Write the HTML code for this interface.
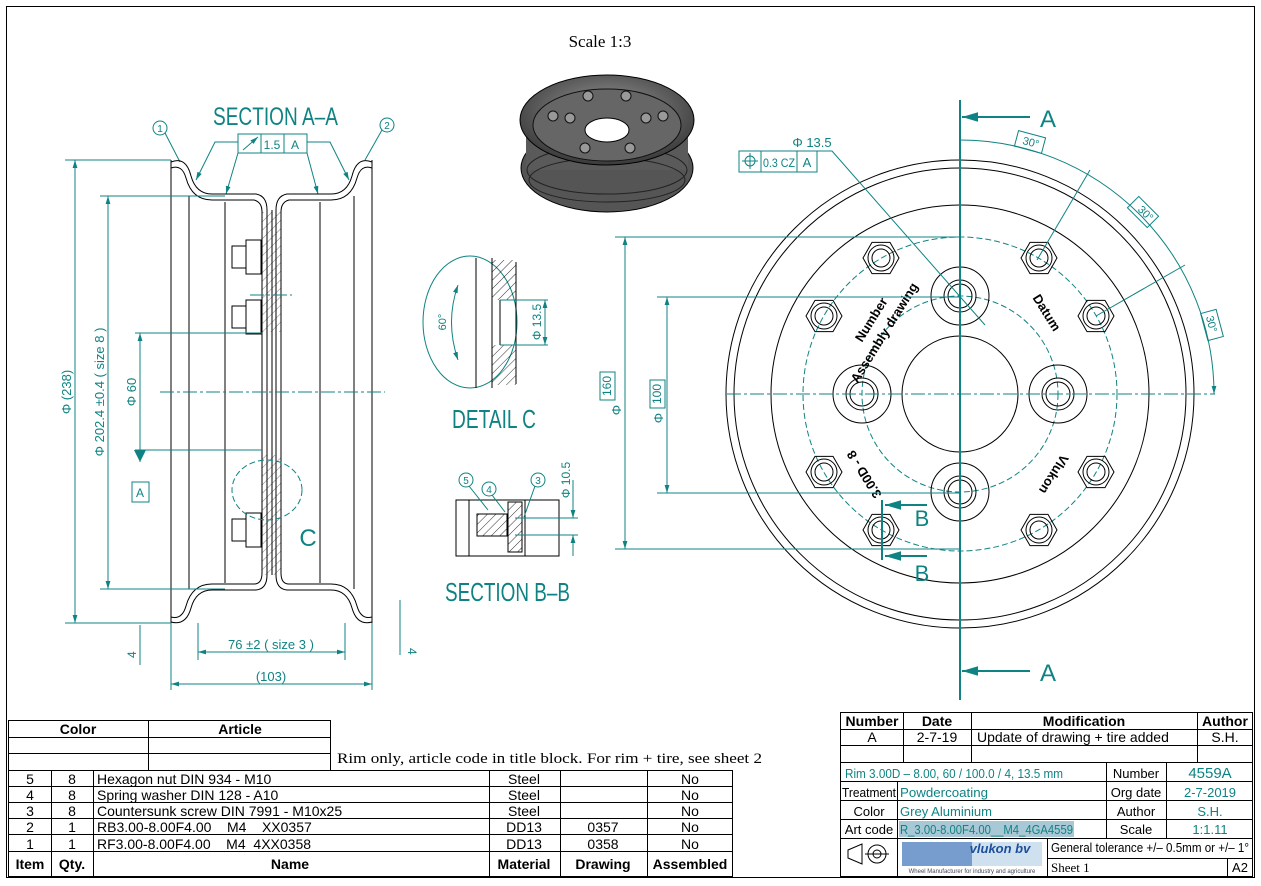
<!DOCTYPE html>
<html><head><meta charset="utf-8"><style>
html,body{margin:0;padding:0;background:#fff}
svg{display:block}
.t{fill:#0f8383;font-family:"Liberation Sans",sans-serif}
.k{fill:#000;font-family:"Liberation Sans",sans-serif}
.s{fill:#000;font-family:"Liberation Serif",serif}
.ln{stroke:#000;stroke-width:1;fill:none}
.tl{stroke:#0f8383;stroke-width:1;fill:none}
.cl{stroke:#0f8383;stroke-width:1;fill:none;stroke-dasharray:14 3 3 3}
.dl{stroke:#0f8383;stroke-width:1;fill:none;stroke-dasharray:6 3}
</style></head><body>
<svg width="1261" height="886" viewBox="0 0 1261 886" xmlns="http://www.w3.org/2000/svg">
<defs>
<marker id="ar" viewBox="0 0 10 10" refX="10" refY="5" markerWidth="8" markerHeight="8" orient="auto-start-reverse"><path d="M0,2 L10,5 L0,8z" fill="#0f8383"/></marker>
<pattern id="h" width="6" height="6" patternUnits="userSpaceOnUse" patternTransform="rotate(45)"><line x1="0" y1="0" x2="0" y2="6" stroke="#000" stroke-width="0.8"/></pattern>
<radialGradient id="g3" cx="50%" cy="40%" r="60%"><stop offset="0" stop-color="#999"/><stop offset="1" stop-color="#3a3a3a"/></radialGradient>
</defs>
<rect x="6.5" y="6.5" width="1248" height="871" class="ln"/>

<!-- Scale + 3D -->
<text x="600" y="47" class="s" font-size="17" text-anchor="middle">Scale 1:3</text>
<ellipse cx="607" cy="168" rx="86" ry="44" fill="#555" stroke="#000"/>
<rect x="526" y="120" width="162" height="50" fill="#5a5a5a"/>
<ellipse cx="607" cy="180" rx="78" ry="22" fill="none" stroke="#222"/>
<ellipse cx="607" cy="170" rx="80" ry="24" fill="none" stroke="#222"/>
<ellipse cx="607" cy="120" rx="87" ry="45" fill="url(#g3)" stroke="#000"/>
<ellipse cx="607" cy="125" rx="74" ry="36" fill="#666" stroke="#111"/>
<ellipse cx="607" cy="130" rx="22" ry="12" fill="#fff" stroke="#000"/>
<g fill="#999" stroke="#111"><circle cx="588" cy="96" r="5"/><circle cx="626" cy="96" r="5"/><circle cx="553" cy="116" r="5"/><circle cx="663" cy="116" r="5"/><circle cx="570" cy="118" r="5"/><circle cx="646" cy="118" r="5"/><circle cx="585" cy="148" r="5"/><circle cx="630" cy="148" r="5"/></g>

<!-- SECTION A-A -->
<text x="213" y="125" class="t" font-size="25" textLength="125" lengthAdjust="spacingAndGlyphs">SECTION A–A</text>
<circle cx="160" cy="128" r="7" class="tl"/><text x="160" y="132" class="t" font-size="10" text-anchor="middle">1</text>
<circle cx="387" cy="125" r="7" class="tl"/><text x="387" y="129" class="t" font-size="10" text-anchor="middle">2</text>
<line x1="165" y1="133" x2="180" y2="162" class="tl"/><line x1="382" y1="130" x2="365" y2="160" class="tl"/>
<rect x="238" y="134" width="69" height="19" class="tl"/><line x1="261" y1="134" x2="261" y2="153" class="tl"/><line x1="284" y1="134" x2="284" y2="153" class="tl"/>
<line x1="243" y1="150" x2="258" y2="137" class="tl" marker-end="url(#ar)"/>
<text x="272" y="149" class="t" font-size="12" text-anchor="middle">1.5</text><text x="295" y="149" class="t" font-size="12" text-anchor="middle">A</text>
<polyline points="238,142 215,142 196,180" class="tl" marker-end="url(#ar)"/>
<polyline points="238,153 226,194" class="tl" marker-end="url(#ar)"/>
<polyline points="307,142 330,142 349,180" class="tl" marker-end="url(#ar)"/>
<polyline points="307,153 318,194" class="tl" marker-end="url(#ar)"/>
<g class="ln">
<path d="M171,162 Q186,156 191,176 Q196,194 212,194 L256,194 Q267,196 267,210 L267,575 Q267,589 256,590 L212,590 Q196,590 191,608 Q186,626 171,622"/>
<path d="M171,168 Q182,164 186,178 Q192,200 212,200 L254,200 Q262,202 262,212 L262,573 Q262,584 254,584 L212,584 Q192,584 186,606 Q182,620 171,617"/>
<path d="M372,162 Q357,156 352,176 Q347,194 331,194 L287,194 Q276,196 276,210 L276,575 Q276,589 287,590 L331,590 Q347,590 352,608 Q357,626 372,622"/>
<path d="M372,168 Q361,164 357,178 Q351,200 331,200 L289,200 Q281,202 281,212 L281,573 Q281,584 289,584 L331,584 Q351,584 357,606 Q361,620 372,617"/>
<line x1="171" y1="160" x2="171" y2="623"/><line x1="372" y1="160" x2="372" y2="623"/>
<line x1="189" y1="196" x2="189" y2="589"/><line x1="354" y1="196" x2="354" y2="589"/>
<line x1="225" y1="202" x2="225" y2="583"/><line x1="320" y1="202" x2="320" y2="583"/>
<line x1="272" y1="210" x2="272" y2="575"/>
</g>
<rect x="262" y="212" width="19" height="120" fill="url(#h)" opacity="0.6"/>
<rect x="262" y="455" width="19" height="120" fill="url(#h)" opacity="0.6"/>
<g class="ln" fill="#fff">
<rect x="232" y="246" width="14" height="22"/><rect x="246" y="240" width="15" height="34"/>
<rect x="232" y="306" width="14" height="22"/><rect x="246" y="300" width="15" height="34"/>
<rect x="232" y="519" width="14" height="22"/><rect x="246" y="513" width="15" height="34"/>
</g>
<line x1="250" y1="295" x2="292" y2="295" class="cl"/>
<line x1="160" y1="392" x2="385" y2="392" class="cl"/>
<ellipse cx="267" cy="490" rx="35" ry="30" class="dl"/>
<text x="308" y="546" class="t" font-size="24" text-anchor="middle">C</text>
<g class="tl">
<line x1="65" y1="160" x2="171" y2="160"/><line x1="65" y1="623" x2="171" y2="623"/>
<line x1="75" y1="160" x2="75" y2="623" marker-start="url(#ar)" marker-end="url(#ar)"/>
<line x1="100" y1="196" x2="225" y2="196"/><line x1="100" y1="589" x2="225" y2="589"/>
<line x1="108" y1="196" x2="108" y2="589" marker-start="url(#ar)" marker-end="url(#ar)"/>
<line x1="135" y1="333" x2="262" y2="333"/><line x1="135" y1="450" x2="262" y2="450"/>
<line x1="140" y1="333" x2="140" y2="462" marker-start="url(#ar)"/>
<rect x="132" y="482" width="17" height="20"/>
<line x1="198" y1="623" x2="198" y2="660"/><line x1="345" y1="623" x2="345" y2="660"/>
<line x1="198" y1="652" x2="345" y2="652" marker-start="url(#ar)" marker-end="url(#ar)"/>
<line x1="171" y1="623" x2="171" y2="690"/><line x1="372" y1="623" x2="372" y2="690"/>
<line x1="171" y1="684" x2="372" y2="684" marker-start="url(#ar)" marker-end="url(#ar)"/>
<line x1="140" y1="625" x2="140" y2="665"/><line x1="400" y1="600" x2="400" y2="655"/>
</g>
<path d="M134,450 L146,450 L140,462z" fill="#0f8383"/>
<text x="140" y="497" class="t" font-size="12" text-anchor="middle">A</text>
<text transform="translate(71,392) rotate(-90)" class="t" font-size="13" text-anchor="middle">Φ (238)</text>
<text transform="translate(104,392) rotate(-90)" class="t" font-size="13" text-anchor="middle">Φ 202.4 ±0.4 ( size 8 )</text>
<text transform="translate(136,392) rotate(-90)" class="t" font-size="13" text-anchor="middle">Φ 60</text>
<text x="271" y="649" class="t" font-size="13" text-anchor="middle">76  ±2 ( size 3 )</text>
<text x="271" y="681" class="t" font-size="13" text-anchor="middle">(103)</text>
<text transform="translate(136,658) rotate(-90)" class="t" font-size="12">4</text>
<text transform="translate(408,648) rotate(90)" class="t" font-size="12">4</text>

<!-- DETAIL C -->
<ellipse cx="470" cy="322" rx="47" ry="66" class="tl" stroke-width="1.5"/>
<g class="ln"><line x1="476" y1="258" x2="476" y2="388"/><line x1="492" y1="258" x2="492" y2="388"/><line x1="516" y1="262" x2="516" y2="384"/><line x1="500" y1="300" x2="500" y2="345"/></g>
<rect x="492" y="260" width="24" height="40" fill="url(#h)"/><rect x="492" y="345" width="24" height="40" fill="url(#h)"/>
<line x1="500" y1="300" x2="548" y2="300" class="tl"/><line x1="500" y1="345" x2="548" y2="345" class="tl"/>
<line x1="545" y1="300" x2="545" y2="345" class="tl" marker-start="url(#ar)" marker-end="url(#ar)"/>
<text transform="translate(541,322) rotate(-90)" class="t" font-size="12" text-anchor="middle">Φ 13.5</text>
<path d="M458,285 Q445,322 458,360" class="tl" marker-start="url(#ar)" marker-end="url(#ar)"/>
<text transform="translate(446,322) rotate(-90)" class="t" font-size="11" text-anchor="middle">60°</text>
<text x="452" y="428" class="t" font-size="26" textLength="84" lengthAdjust="spacingAndGlyphs">DETAIL C</text>

<!-- SECTION B-B -->
<rect x="456" y="500" width="103" height="56" class="ln"/>
<line x1="469" y1="500" x2="469" y2="556" class="ln"/><line x1="525" y1="500" x2="525" y2="556" class="ln"/>
<rect x="477" y="514" width="30" height="22" fill="url(#h)" stroke="#000"/>
<rect x="508" y="502" width="14" height="50" fill="url(#h)" stroke="#000"/>
<line x1="515" y1="518" x2="578" y2="518" class="tl"/><line x1="515" y1="535" x2="578" y2="535" class="tl"/>
<line x1="573" y1="480" x2="573" y2="518" class="tl" marker-end="url(#ar)"/><line x1="573" y1="556" x2="573" y2="535" class="tl" marker-end="url(#ar)"/>
<text transform="translate(570,480) rotate(-90)" class="t" font-size="12" text-anchor="middle">Φ 10.5</text>
<circle cx="466" cy="480" r="7" class="tl"/><text x="466" y="484" class="t" font-size="10" text-anchor="middle">5</text>
<circle cx="489" cy="489" r="7" class="tl"/><text x="489" y="493" class="t" font-size="10" text-anchor="middle">4</text>
<circle cx="538" cy="480" r="7" class="tl"/><text x="538" y="484" class="t" font-size="10" text-anchor="middle">3</text>
<line x1="469" y1="486" x2="488" y2="510" class="tl"/><line x1="492" y1="495" x2="505" y2="512" class="tl"/><line x1="535" y1="486" x2="524" y2="517" class="tl"/>
<text x="445" y="601" class="t" font-size="26" textLength="125" lengthAdjust="spacingAndGlyphs">SECTION B–B</text>

<!-- FRONT VIEW -->
<g class="ln">
<circle cx="960" cy="394" r="234"/><circle cx="960" cy="394" r="226"/><circle cx="960" cy="394" r="189"/>
<circle cx="960" cy="394" r="58"/>
</g>
<circle cx="960" cy="394" r="157" class="dl" stroke-dasharray="12 4"/>
<circle cx="960" cy="394" r="98" class="dl" stroke-dasharray="12 4"/>
<g class="ln">
<circle cx="960" cy="296" r="29"/><circle cx="960" cy="296" r="16"/><circle cx="960" cy="296" r="12"/>
<circle cx="960" cy="492" r="29"/><circle cx="960" cy="492" r="16"/><circle cx="960" cy="492" r="12"/>
<circle cx="862" cy="394" r="29"/><circle cx="862" cy="394" r="16"/><circle cx="862" cy="394" r="12"/>
<circle cx="1058" cy="394" r="29"/><circle cx="1058" cy="394" r="16"/><circle cx="1058" cy="394" r="12"/>
</g>
<g class="ln">
<g transform="translate(881,258)"><polygon points="18,0 9,15.6 -9,15.6 -18,0 -9,-15.6 9,-15.6"/><circle r="13"/><circle r="9"/></g>
<g transform="translate(824,316)"><polygon points="18,0 9,15.6 -9,15.6 -18,0 -9,-15.6 9,-15.6"/><circle r="13"/><circle r="9"/></g>
<g transform="translate(1039,258)"><polygon points="18,0 9,15.6 -9,15.6 -18,0 -9,-15.6 9,-15.6"/><circle r="13"/><circle r="9"/></g>
<g transform="translate(1096,316)"><polygon points="18,0 9,15.6 -9,15.6 -18,0 -9,-15.6 9,-15.6"/><circle r="13"/><circle r="9"/></g>
<g transform="translate(824,472)"><polygon points="18,0 9,15.6 -9,15.6 -18,0 -9,-15.6 9,-15.6"/><circle r="13"/><circle r="9"/></g>
<g transform="translate(881,530)"><polygon points="18,0 9,15.6 -9,15.6 -18,0 -9,-15.6 9,-15.6"/><circle r="13"/><circle r="9"/></g>
<g transform="translate(1039,530)"><polygon points="18,0 9,15.6 -9,15.6 -18,0 -9,-15.6 9,-15.6"/><circle r="13"/><circle r="9"/></g>
<g transform="translate(1096,472)"><polygon points="18,0 9,15.6 -9,15.6 -18,0 -9,-15.6 9,-15.6"/><circle r="13"/><circle r="9"/></g>
</g>
<text transform="translate(875,322) rotate(-58)" class="k" font-size="13" font-weight="bold" text-anchor="middle">Number</text>
<text transform="translate(888,335) rotate(-58)" class="k" font-size="13" font-weight="bold" text-anchor="middle">Assembly drawing</text>
<text transform="translate(1043,315) rotate(58)" class="k" font-size="13" font-weight="bold" text-anchor="middle">Datum</text>
<text transform="translate(868,472) rotate(-122)" class="k" font-size="13" font-weight="bold" text-anchor="middle">3.00D - 8</text>
<text transform="translate(1050,472) rotate(122)" class="k" font-size="13" font-weight="bold" text-anchor="middle">Vlukon</text>
<line x1="727" y1="394" x2="1215" y2="394" class="cl"/>
<line x1="960" y1="100" x2="960" y2="700" stroke="#0f8383" stroke-width="2"/>
<line x1="1030" y1="117" x2="962" y2="117" stroke="#0f8383" stroke-width="2" marker-end="url(#ar)"/>
<line x1="1030" y1="671" x2="962" y2="671" stroke="#0f8383" stroke-width="2" marker-end="url(#ar)"/>
<text x="1048" y="127" class="t" font-size="24" text-anchor="middle">A</text>
<text x="1048" y="681" class="t" font-size="24" text-anchor="middle">A</text>
<line x1="882" y1="500" x2="882" y2="560" stroke="#0f8383" stroke-width="2"/>
<line x1="927" y1="505" x2="885" y2="505" stroke="#0f8383" stroke-width="2" marker-end="url(#ar)"/>
<line x1="927" y1="556" x2="885" y2="556" stroke="#0f8383" stroke-width="2" marker-end="url(#ar)"/>
<text x="922" y="526" class="t" font-size="22" text-anchor="middle">B</text>
<text x="922" y="581" class="t" font-size="22" text-anchor="middle">B</text>
<g class="tl">
<line x1="615" y1="237" x2="960" y2="237"/><line x1="615" y1="549" x2="960" y2="549"/>
<line x1="625" y1="237" x2="625" y2="549" marker-start="url(#ar)" marker-end="url(#ar)"/>
<line x1="657" y1="297" x2="960" y2="297"/><line x1="657" y1="493" x2="960" y2="493"/>
<line x1="667" y1="297" x2="667" y2="493" marker-start="url(#ar)" marker-end="url(#ar)"/>
<rect x="600" y="372" width="15" height="28"/><rect x="650" y="380" width="15" height="28"/>
<rect x="739" y="151" width="78" height="21"/><line x1="761" y1="151" x2="761" y2="172"/><line x1="797" y1="151" x2="797" y2="172"/>
<circle cx="750" cy="161" r="5"/><line x1="742" y1="161" x2="758" y2="161"/><line x1="750" y1="153" x2="750" y2="169"/>
<polyline points="817,151 832,151 985,325"/>
<path d="M960,140 A254,254 0 0 1 1214,394" marker-end="url(#ar)"/>
<line x1="1037" y1="260" x2="1090" y2="170"/><line x1="1096" y1="316" x2="1185" y2="265"/>
<g transform="translate(1030,142) rotate(15)"><rect x="-14" y="-8" width="28" height="16"/></g>
<g transform="translate(1143,212) rotate(45)"><rect x="-14" y="-8" width="28" height="16"/></g>
<g transform="translate(1212,325) rotate(75)"><rect x="-14" y="-8" width="28" height="16"/></g>
</g>
<text transform="translate(611,386) rotate(-90)" class="t" font-size="12" text-anchor="middle">160</text>
<text transform="translate(621,410) rotate(-90)" class="t" font-size="13" text-anchor="middle">Φ</text>
<text transform="translate(661,394) rotate(-90)" class="t" font-size="12" text-anchor="middle">100</text>
<text transform="translate(663,418) rotate(-90)" class="t" font-size="13" text-anchor="middle">Φ</text>
<text x="779" y="167" class="t" font-size="12" text-anchor="middle" textLength="32" lengthAdjust="spacingAndGlyphs">0.3 CZ</text><text x="807" y="167" class="t" font-size="13" text-anchor="middle">A</text>
<text x="812" y="147" class="t" font-size="13" text-anchor="middle">Φ 13.5</text>
<text transform="translate(1030,146) rotate(15)" class="t" font-size="11" text-anchor="middle">30°</text>
<text transform="translate(1143,216) rotate(45)" class="t" font-size="11" text-anchor="middle">30°</text>
<text transform="translate(1208,325) rotate(75)" class="t" font-size="11" text-anchor="middle">30°</text>

<!-- LEFT TABLE -->
<g stroke="#000" stroke-width="1" fill="none">
<rect x="8.5" y="720.5" width="322" height="50"/>
<line x1="8" y1="737.5" x2="331" y2="737.5"/><line x1="8" y1="753.5" x2="331" y2="753.5"/>
<line x1="148.5" y1="720" x2="148.5" y2="770"/>
<rect x="8.5" y="770.5" width="724" height="106"/>
<line x1="8" y1="786.5" x2="733" y2="786.5"/><line x1="8" y1="802.5" x2="733" y2="802.5"/><line x1="8" y1="818.5" x2="733" y2="818.5"/><line x1="8" y1="834.5" x2="733" y2="834.5"/><line x1="8" y1="851.5" x2="733" y2="851.5"/>
<line x1="51.5" y1="770" x2="51.5" y2="877"/><line x1="93.5" y1="770" x2="93.5" y2="877"/><line x1="489.5" y1="770" x2="489.5" y2="877"/><line x1="560.5" y1="770" x2="560.5" y2="877"/><line x1="647.5" y1="770" x2="647.5" y2="877"/>
</g>
<g class="k" font-size="14">
<text x="78" y="734" text-anchor="middle" font-weight="bold">Color</text><text x="240" y="734" text-anchor="middle" font-weight="bold">Article</text>
<text x="30" y="784" text-anchor="middle">5</text><text x="72" y="784" text-anchor="middle">8</text><text x="97" y="784">Hexagon nut DIN 934 - M10</text><text x="524" y="784" text-anchor="middle">Steel</text><text x="690" y="784" text-anchor="middle">No</text>
<text x="30" y="800" text-anchor="middle">4</text><text x="72" y="800" text-anchor="middle">8</text><text x="97" y="800">Spring washer DIN 128 - A10</text><text x="524" y="800" text-anchor="middle">Steel</text><text x="690" y="800" text-anchor="middle">No</text>
<text x="30" y="816" text-anchor="middle">3</text><text x="72" y="816" text-anchor="middle">8</text><text x="97" y="816">Countersunk screw DIN 7991 - M10x25</text><text x="524" y="816" text-anchor="middle">Steel</text><text x="690" y="816" text-anchor="middle">No</text>
<text x="30" y="832" text-anchor="middle">2</text><text x="72" y="832" text-anchor="middle">1</text><text x="97" y="832" xml:space="preserve">RB3.00-8.00F4.00    M4    XX0357</text><text x="524" y="832" text-anchor="middle">DD13</text><text x="603" y="832" text-anchor="middle">0357</text><text x="690" y="832" text-anchor="middle">No</text>
<text x="30" y="849" text-anchor="middle">1</text><text x="72" y="849" text-anchor="middle">1</text><text x="97" y="849" xml:space="preserve">RF3.00-8.00F4.00    M4  4XX0358</text><text x="524" y="849" text-anchor="middle">DD13</text><text x="603" y="849" text-anchor="middle">0358</text><text x="690" y="849" text-anchor="middle">No</text>
<g font-weight="bold"><text x="30" y="869" text-anchor="middle">Item</text><text x="72" y="869" text-anchor="middle">Qty.</text><text x="290" y="869" text-anchor="middle">Name</text><text x="524" y="869" text-anchor="middle">Material</text><text x="603" y="869" text-anchor="middle">Drawing</text><text x="690" y="869" text-anchor="middle">Assembled</text></g>
</g>
<text x="337" y="763" class="s" font-size="15" textLength="425" lengthAdjust="spacingAndGlyphs">Rim only, article code in title block. For rim + tire, see sheet 2</text>

<!-- RIGHT BLOCK -->
<g stroke="#000" stroke-width="1" fill="none">
<rect x="840.5" y="712.5" width="412" height="164"/>
<line x1="840" y1="729.5" x2="1253" y2="729.5"/><line x1="840" y1="745.5" x2="1253" y2="745.5"/><line x1="840" y1="762.5" x2="1253" y2="762.5"/>
<line x1="903.5" y1="712" x2="903.5" y2="762"/><line x1="971.5" y1="712" x2="971.5" y2="762"/><line x1="1197.5" y1="712" x2="1197.5" y2="762"/>
<line x1="840" y1="781.5" x2="1253" y2="781.5"/><line x1="840" y1="800.5" x2="1253" y2="800.5"/><line x1="840" y1="819.5" x2="1253" y2="819.5"/><line x1="840" y1="838.5" x2="1253" y2="838.5"/>
<line x1="897.5" y1="781" x2="897.5" y2="877"/><line x1="1106.5" y1="762" x2="1106.5" y2="838"/><line x1="1166.5" y1="762" x2="1166.5" y2="838"/>
<line x1="1047.5" y1="838" x2="1047.5" y2="877"/><line x1="1047" y1="858.5" x2="1253" y2="858.5"/><line x1="1227.5" y1="858" x2="1227.5" y2="877"/>
<path d="M848,850 L862,844 L862,864 L848,858z"/><circle cx="877" cy="854" r="9"/><circle cx="877" cy="854" r="4"/><line x1="865" y1="854" x2="889" y2="854"/>
</g>
<g class="k" font-size="14">
<text x="872" y="726" text-anchor="middle" font-weight="bold">Number</text><text x="937" y="726" text-anchor="middle" font-weight="bold">Date</text><text x="1084" y="726" text-anchor="middle" font-weight="bold">Modification</text><text x="1225" y="726" text-anchor="middle" font-weight="bold">Author</text>
<text x="872" y="742" text-anchor="middle">A</text><text x="937" y="742" text-anchor="middle">2-7-19</text><text x="977" y="742">Update of drawing + tire added</text><text x="1225" y="742" text-anchor="middle">S.H.</text>
</g>
<rect x="899" y="821" width="175" height="16" fill="#a9c8d6"/>
<g font-size="13" class="t">
<text x="845" y="778" textLength="218" lengthAdjust="spacingAndGlyphs">Rim 3.00D – 8.00,  60 / 100.0 / 4,  13.5 mm</text>
<text x="900" y="797" textLength="88" lengthAdjust="spacingAndGlyphs">Powdercoating</text><text x="900" y="816" textLength="92" lengthAdjust="spacingAndGlyphs">Grey Aluminium</text><text x="900" y="834" textLength="173" lengthAdjust="spacingAndGlyphs">R_3.00-8.00F4.00__M4_4GA4559</text>
<text x="1210" y="778" text-anchor="middle" font-size="15">4559A</text><text x="1210" y="797" text-anchor="middle">2-7-2019</text><text x="1210" y="816" text-anchor="middle">S.H.</text><text x="1210" y="834" text-anchor="middle">1:1.11</text>
</g>
<g font-size="13" class="t" style="fill:#000">
<text x="869" y="797" text-anchor="middle" textLength="54" lengthAdjust="spacingAndGlyphs">Treatment</text><text x="869" y="816" text-anchor="middle">Color</text><text x="869" y="834" text-anchor="middle">Art code</text>
<text x="1136" y="778" text-anchor="middle">Number</text><text x="1136" y="797" text-anchor="middle">Org date</text><text x="1136" y="816" text-anchor="middle">Author</text><text x="1136" y="834" text-anchor="middle">Scale</text>
<text x="1051" y="852" textLength="198" lengthAdjust="spacingAndGlyphs">General tolerance +/– 0.5mm or +/– 1°</text>
<text x="1240" y="872" text-anchor="middle">A2</text>
</g>
<text x="1051" y="872" class="s" font-size="13">Sheet 1</text>
<rect x="902" y="842" width="140" height="24" fill="#cfe0ef"/>
<rect x="902" y="842" width="70" height="24" fill="#3a6fb5" opacity="0.6"/>
<text x="1000" y="853" font-family="Liberation Sans,sans-serif" font-size="13" font-style="italic" font-weight="bold" fill="#1b4f9a" text-anchor="middle">vlukon bv</text>
<text x="972" y="873" font-family="Liberation Sans,sans-serif" font-size="6" fill="#445" text-anchor="middle">Wheel Manufacturer for industry and agriculture</text>
</svg>
</body></html>
